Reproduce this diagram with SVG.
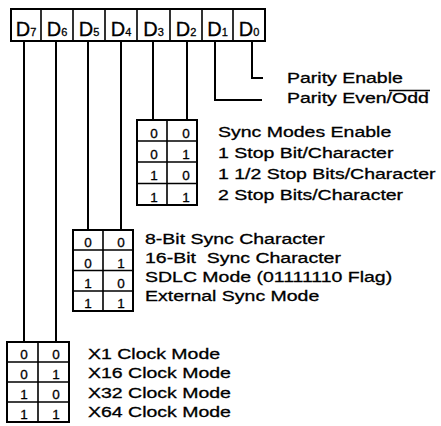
<svg xmlns="http://www.w3.org/2000/svg" width="441" height="426" viewBox="0 0 441 426">
<style>
.box{fill:none;stroke:#000;stroke-width:2}
.grid{fill:none;stroke:#000;stroke-width:1.6}
.wire{fill:none;stroke:#000;stroke-width:2}
.reg{font-family:"Liberation Sans",Arial,sans-serif;font-size:20px;fill:#000;stroke:#000;stroke-width:0.3}
.sub{font-size:11px}
.dig{font-family:"Liberation Sans",Arial,sans-serif;font-size:13.5px;fill:#000;stroke:#000;stroke-width:0.3;text-anchor:middle}
.lbl{font-family:"Liberation Sans",Arial,sans-serif;font-size:15px;fill:#000;stroke:#000;stroke-width:0.3}
</style>
<rect width="441" height="426" fill="#fff"/>
<g id="register">
  <rect class="box" x="11" y="9" width="254" height="32"/>
  <path class="grid" d="M41 9V41M73 9V41M105 9V41M137 9V41M170 9V41M202 9V41M233 9V41"/>
  <text class="reg" x="26" y="36" text-anchor="middle">D<tspan class="sub">7</tspan></text>
  <text class="reg" x="57" y="36" text-anchor="middle">D<tspan class="sub">6</tspan></text>
  <text class="reg" x="89" y="36" text-anchor="middle">D<tspan class="sub">5</tspan></text>
  <text class="reg" x="121" y="36" text-anchor="middle">D<tspan class="sub">4</tspan></text>
  <text class="reg" x="153.5" y="36" text-anchor="middle">D<tspan class="sub">3</tspan></text>
  <text class="reg" x="186" y="36" text-anchor="middle">D<tspan class="sub">2</tspan></text>
  <text class="reg" x="217.5" y="36" text-anchor="middle">D<tspan class="sub">1</tspan></text>
  <text class="reg" x="249" y="36" text-anchor="middle">D<tspan class="sub">0</tspan></text>
</g>
<g id="connectors">
  <path class="wire" d="M24 41V342M56 41V342"/>
  <path class="wire" d="M88 41V230M121 41V230"/>
  <path class="wire" d="M153 41V120M187 41V120"/>
  <path class="wire" d="M215 41V100H262"/>
  <path class="wire" d="M252 41V78H263"/>
</g>
<g id="parity">
  <text class="lbl" transform="translate(287 83) scale(1.3 1)">Parity Enable</text>
  <text class="lbl" transform="translate(287 103) scale(1.3 1)">Parity Even/Odd</text>
  <line x1="389" y1="90.5" x2="430" y2="90.5" stroke="#000" stroke-width="1.3"/>
</g>
<g id="table-d3d2">
  <rect class="box" x="137" y="120" width="60" height="85"/>
  <path class="grid" d="M167 120V205M137 141H197M137 162H197M137 183.5H197"/>
  <text class="dig" x="154" y="138">0</text><text class="dig" x="186" y="138">0</text>
  <text class="dig" x="154" y="159">0</text><text class="dig" x="186" y="159">1</text>
  <text class="dig" x="154" y="180">1</text><text class="dig" x="186" y="180">0</text>
  <text class="dig" x="154" y="202">1</text><text class="dig" x="186" y="202">1</text>
  <text class="lbl" transform="translate(218 137) scale(1.3 1)">Sync Modes Enable</text>
  <text class="lbl" transform="translate(218 158) scale(1.3 1)">1 Stop Bit/Character</text>
  <text class="lbl" transform="translate(218 179) scale(1.3 1)">1 1/2 Stop Bits/Character</text>
  <text class="lbl" transform="translate(218 200) scale(1.3 1)">2 Stop Bits/Character</text>
</g>
<g id="table-d5d4">
  <rect class="box" x="73" y="230" width="60" height="81"/>
  <path class="grid" d="M103 230V311M73 250H133M73 270.5H133M73 291H133"/>
  <text class="dig" x="88" y="247">0</text><text class="dig" x="121" y="247">0</text>
  <text class="dig" x="88" y="267.5">0</text><text class="dig" x="121" y="267.5">1</text>
  <text class="dig" x="88" y="288">1</text><text class="dig" x="121" y="288">0</text>
  <text class="dig" x="88" y="308">1</text><text class="dig" x="121" y="308">1</text>
  <text class="lbl" transform="translate(145 244) scale(1.3 1)">8-Bit Sync Character</text>
  <text class="lbl" transform="translate(145 263) scale(1.3 1)" xml:space="preserve">16-Bit  Sync Character</text>
  <text class="lbl" transform="translate(145 282) scale(1.3 1)">SDLC Mode (01111110 Flag)</text>
  <text class="lbl" transform="translate(145 301) scale(1.3 1)">External Sync Mode</text>
</g>
<g id="table-d7d6">
  <rect class="box" x="7" y="342" width="62" height="80"/>
  <path class="grid" d="M38 342V422M7 362H69M7 382H69M7 402H69"/>
  <text class="dig" x="24" y="359">0</text><text class="dig" x="56" y="359">0</text>
  <text class="dig" x="24" y="379">0</text><text class="dig" x="56" y="379">1</text>
  <text class="dig" x="24" y="399">1</text><text class="dig" x="56" y="399">0</text>
  <text class="dig" x="24" y="419">1</text><text class="dig" x="56" y="419">1</text>
  <text class="lbl" transform="translate(88 359) scale(1.3 1)">X1 Clock Mode</text>
  <text class="lbl" transform="translate(88 378) scale(1.3 1)">X16 Clock Mode</text>
  <text class="lbl" transform="translate(88 398) scale(1.3 1)">X32 Clock Mode</text>
  <text class="lbl" transform="translate(88 417) scale(1.3 1)">X64 Clock Mode</text>
</g>
</svg>
